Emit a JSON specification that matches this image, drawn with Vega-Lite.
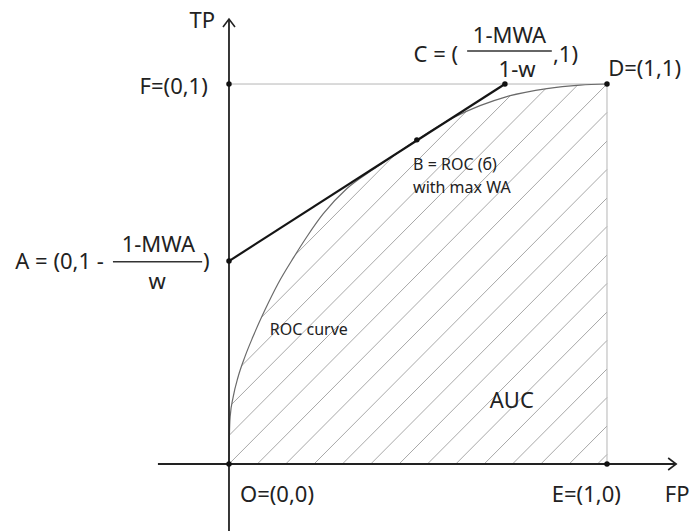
{
  "$schema": "https://vega.github.io/schema/vega-lite/v6.json",
  "width": 690,
  "height": 531,
  "autosize": {"type": "none"},
  "padding": 0,
  "background": "white",
  "config": {"view": {"stroke": null}, "text": {"font": "Noto Sans", "color": "#222"}},
  "datasets": {
    "curve": [
      {"x": 0, "y": 0}, {"x": 0.001, "y": 0.071}, {"x": 0.003, "y": 0.124}, {"x": 0.011, "y": 0.176},
      {"x": 0.024, "y": 0.229}, {"x": 0.042, "y": 0.282}, {"x": 0.063, "y": 0.334}, {"x": 0.095, "y": 0.405},
      {"x": 0.13, "y": 0.475}, {"x": 0.172, "y": 0.545}, {"x": 0.206, "y": 0.598}, {"x": 0.249, "y": 0.658},
      {"x": 0.312, "y": 0.725}, {"x": 0.381, "y": 0.775}, {"x": 0.426, "y": 0.805}, {"x": 0.497, "y": 0.853},
      {"x": 0.593, "y": 0.911}, {"x": 0.664, "y": 0.943}, {"x": 0.735, "y": 0.967}, {"x": 0.841, "y": 0.988},
      {"x": 0.929, "y": 0.997}, {"x": 1, "y": 1}
    ],
    "hatch": [
      {"x": 0, "y": 0.9, "x2": 0.1, "y2": 1}, {"x": 0, "y": 0.825, "x2": 0.175, "y2": 1},
      {"x": 0, "y": 0.75, "x2": 0.25, "y2": 1}, {"x": 0, "y": 0.675, "x2": 0.325, "y2": 1},
      {"x": 0, "y": 0.6, "x2": 0.4, "y2": 1}, {"x": 0, "y": 0.525, "x2": 0.475, "y2": 1},
      {"x": 0, "y": 0.45, "x2": 0.55, "y2": 1}, {"x": 0, "y": 0.375, "x2": 0.625, "y2": 1},
      {"x": 0, "y": 0.3, "x2": 0.7, "y2": 1}, {"x": 0, "y": 0.225, "x2": 0.775, "y2": 1},
      {"x": 0, "y": 0.15, "x2": 0.85, "y2": 1}, {"x": 0, "y": 0.075, "x2": 0.925, "y2": 1},
      {"x": 0, "y": 0, "x2": 1, "y2": 1},
      {"x": 0.075, "y": 0, "x2": 1, "y2": 0.925}, {"x": 0.15, "y": 0, "x2": 1, "y2": 0.85},
      {"x": 0.225, "y": 0, "x2": 1, "y2": 0.775}, {"x": 0.3, "y": 0, "x2": 1, "y2": 0.7},
      {"x": 0.375, "y": 0, "x2": 1, "y2": 0.625}, {"x": 0.45, "y": 0, "x2": 1, "y2": 0.55},
      {"x": 0.525, "y": 0, "x2": 1, "y2": 0.475}, {"x": 0.6, "y": 0, "x2": 1, "y2": 0.4},
      {"x": 0.675, "y": 0, "x2": 1, "y2": 0.325}, {"x": 0.75, "y": 0, "x2": 1, "y2": 0.25},
      {"x": 0.825, "y": 0, "x2": 1, "y2": 0.175}, {"x": 0.9, "y": 0, "x2": 1, "y2": 0.1},
      {"x": 0.975, "y": 0, "x2": 1, "y2": 0.025}
    ],
    "frame": [
      {"x": 0, "y": 1, "x2": 1, "y2": 1},
      {"x": 1, "y": 0, "x2": 1, "y2": 1}
    ],
    "axes": [
      {"x": 0, "y": -0.18, "x2": 0, "y2": 1.171},
      {"x": -0.188, "y": 0, "x2": 1.183, "y2": 0}
    ],
    "tangent": [
      {"x": 0, "y": 0.534, "x2": 0.73, "y2": 1}
    ],
    "bars": [
      {"x": -0.307, "y": 0.532, "x2": -0.071, "y2": 0.532},
      {"x": 0.63, "y": 1.087, "x2": 0.854, "y2": 1.087}
    ],
    "points": [
      {"x": 0, "y": 0}, {"x": 1, "y": 0}, {"x": 0, "y": 1}, {"x": 1, "y": 1},
      {"x": 0, "y": 0.534}, {"x": 0.497, "y": 0.853}, {"x": 0.73, "y": 1}
    ],
    "arrowUp": [{"x": 0, "y": 1.171}],
    "arrowRight": [{"x": 1.183, "y": 0}],
    "labelsRight": [
      {"x": -0.037, "y": 1.147, "label": "TP"},
      {"x": -0.056, "y": 0.974, "label": "F=(0,1)"},
      {"x": -0.331, "y": 0.513, "label": "A = (0,1 -"},
      {"x": 0.606, "y": 1.058, "label": "C = ("}
    ],
    "labelsLeft": [
      {"x": -0.069, "y": 0.513, "label": ")"},
      {"x": 0.857, "y": 1.058, "label": ",1)"},
      {"x": 1.003, "y": 1.021, "label": "D=(1,1)"},
      {"x": 0.029, "y": -0.1, "label": "O=(0,0)"},
      {"x": 0.854, "y": -0.1, "label": "E=(1,0)"},
      {"x": 1.153, "y": -0.1, "label": "FP"},
      {"x": 0.69, "y": 0.147, "label": "AUC"}
    ],
    "labelsCenter": [
      {"x": -0.187, "y": 0.558, "label": "1-MWA"},
      {"x": -0.19, "y": 0.461, "label": "w"},
      {"x": 0.742, "y": 1.108, "label": "1-MWA"},
      {"x": 0.762, "y": 1.018, "label": "1-w"}
    ],
    "labelsSmall": [
      {"x": 0.487, "y": 0.774, "label": "B = ROC (б)"},
      {"x": 0.487, "y": 0.713, "label": "with max WA"},
      {"x": 0.108, "y": 0.339, "label": "ROC curve"}
    ]
  },
  "encoding": {
    "x": {"field": "x", "type": "quantitative", "scale": {"domain": [-0.6058, 1.2196], "nice": false, "zero": false}, "axis": null},
    "y": {"field": "y", "type": "quantitative", "scale": {"domain": [-0.1763, 1.2211], "nice": false, "zero": false}, "axis": null}
  },
  "layer": [
    {
      "data": {"name": "hatch"},
      "mark": {"type": "rule", "color": "#a8a8a8", "strokeWidth": 1},
      "encoding": {"x2": {"field": "x2"}, "y2": {"field": "y2"}}
    },
    {
      "data": {"name": "curve"},
      "mark": {"type": "area", "color": "white", "opacity": 1, "interpolate": "monotone"},
      "encoding": {"y2": {"datum": 1}}
    },
    {
      "data": {"name": "frame"},
      "mark": {"type": "rule", "color": "#b5b5b5", "strokeWidth": 1},
      "encoding": {"x2": {"field": "x2"}, "y2": {"field": "y2"}}
    },
    {
      "data": {"name": "curve"},
      "mark": {"type": "line", "color": "#6a6a6a", "strokeWidth": 1.2, "interpolate": "monotone"},
      "encoding": {}
    },
    {
      "data": {"name": "axes"},
      "mark": {"type": "rule", "color": "#222", "strokeWidth": 1.8},
      "encoding": {"x2": {"field": "x2"}, "y2": {"field": "y2"}}
    },
    {
      "data": {"name": "tangent"},
      "mark": {"type": "rule", "color": "#151515", "strokeWidth": 2.2},
      "encoding": {"x2": {"field": "x2"}, "y2": {"field": "y2"}}
    },
    {
      "data": {"name": "bars"},
      "mark": {"type": "rule", "color": "#333", "strokeWidth": 1.5},
      "encoding": {"x2": {"field": "x2"}, "y2": {"field": "y2"}}
    },
    {
      "data": {"name": "points"},
      "mark": {"type": "point", "filled": true, "color": "#111", "size": 30, "opacity": 1}
    },
    {
      "data": {"name": "arrowUp"},
      "mark": {"type": "point", "filled": false, "stroke": "#222", "strokeWidth": 1.6, "size": 100, "opacity": 1, "shape": "M-1.2,1.6L0,0L1.2,1.6"}
    },
    {
      "data": {"name": "arrowRight"},
      "mark": {"type": "point", "filled": false, "stroke": "#222", "strokeWidth": 1.6, "size": 100, "opacity": 1, "shape": "M-1.6,-1.2L0,0L-1.6,1.2"}
    },
    {
      "data": {"name": "labelsRight"},
      "mark": {"type": "text", "align": "right", "baseline": "alphabetic", "fontSize": 22},
      "encoding": {"text": {"field": "label"}}
    },
    {
      "data": {"name": "labelsLeft"},
      "mark": {"type": "text", "align": "left", "baseline": "alphabetic", "fontSize": 22},
      "encoding": {"text": {"field": "label"}}
    },
    {
      "data": {"name": "labelsCenter"},
      "mark": {"type": "text", "align": "center", "baseline": "alphabetic", "fontSize": 22},
      "encoding": {"text": {"field": "label"}}
    },
    {
      "data": {"name": "labelsSmall"},
      "mark": {"type": "text", "align": "left", "baseline": "alphabetic", "fontSize": 16},
      "encoding": {"text": {"field": "label"}}
    }
  ]
}
